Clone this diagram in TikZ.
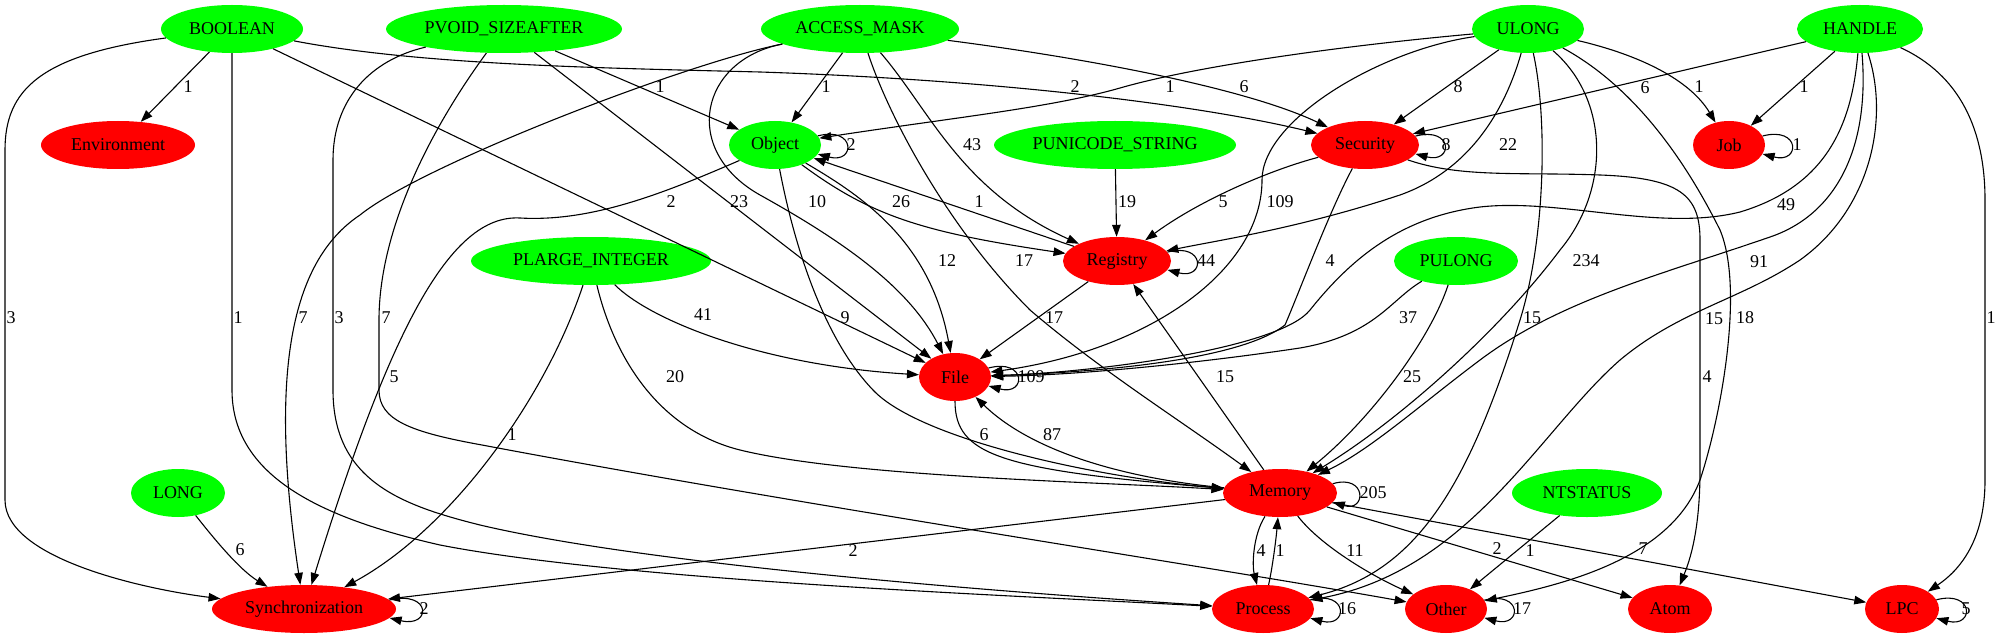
\documentclass[tikz,border=0pt]{standalone}
\usepackage{fontspec}
\setmainfont{Liberation Serif}
\usetikzlibrary{arrows.meta,shapes.geometric}
\definecolor{vgreen}{RGB}{0,255,0}
\definecolor{vred}{RGB}{255,0,0}
\tikzset{
  nbase/.style={ellipse, inner sep=0pt, minimum height=48pt, draw=none, font=\fontsize{18}{20}\selectfont},
  gnode/.style={nbase, fill=vgreen},
  rnode/.style={nbase, fill=vred},
  e/.style={draw=black, line width=1.1pt, -{Triangle[length=12pt,width=8.5pt]}},
  lbl/.style={font=\fontsize{18}{20}\selectfont, inner sep=0pt, text=black},
}
\begin{document}
\begin{tikzpicture}[x=1pt,y=-1pt]
\useasboundingbox (0,0) rectangle (2004,639);
% nodes
\node[gnode, minimum width=142pt] (BOOLEAN) at (232,29) {BOOLEAN};
\node[gnode, minimum width=236pt] (PVOID) at (504,29) {PVOID\_SIZEAFTER};
\node[gnode, minimum width=198pt] (ACCESS) at (860,29) {ACCESS\_MASK};
\node[gnode, minimum width=112pt] (ULONG) at (1528,29) {ULONG};
\node[gnode, minimum width=126pt] (HANDLE) at (1860,29) {HANDLE};
\node[rnode, minimum width=154pt] (Environment) at (118,145) {Environment};
\node[gnode, minimum width=92pt] (Object) at (775,145) {Object};
\node[gnode, minimum width=242pt] (PUNICODE) at (1115,145) {PUNICODE\_STRING};
\node[rnode, minimum width=108pt] (Security) at (1365,145) {Security};
\node[rnode, minimum width=72pt] (Job) at (1729,145) {Job};
\node[gnode, minimum width=240pt] (PLARGE) at (591,261) {PLARGE\_INTEGER};
\node[rnode, minimum width=108pt] (Registry) at (1117,261) {Registry};
\node[gnode, minimum width=124pt] (PULONG) at (1456,261) {PULONG};
\node[rnode, minimum width=72pt] (File) at (955,377) {File};
\node[gnode, minimum width=94pt] (LONG) at (178,493) {LONG};
\node[rnode, minimum width=114pt] (Memory) at (1280,493) {Memory};
\node[gnode, minimum width=150pt] (NTSTATUS) at (1587,493) {NTSTATUS};
\node[rnode, minimum width=184pt] (Sync) at (304,609) {Synchronization};
\node[rnode, minimum width=102pt] (Process) at (1263,609) {Process};
\node[rnode, minimum width=82pt] (Other) at (1446,609) {Other};
\node[rnode, minimum width=84pt] (Atom) at (1670,609) {Atom};
\node[rnode, minimum width=74pt] (LPC) at (1902,609) {LPC};
% edges from BOOLEAN
\draw[e] (BOOLEAN) -- (Environment) node[lbl] (l1) at (188,87) {1};
\draw[e] (BOOLEAN) .. controls (40,55) and (5,90) .. (5,150) -- (5,500) .. controls (5,560) and (150,590) .. (Sync) node[lbl] (l2) at (11,318) {3};
\draw[e] (BOOLEAN) -- (232,390) .. controls (232,480) and (330,520) .. (440,545) .. controls (620,580) and (1000,595) .. (Process) node[lbl] (l3) at (238,318) {1};
\draw[e] (BOOLEAN) .. controls (420,65) and (600,68) .. (760,72) .. controls (1000,80) and (1200,105) .. (Security) node[lbl] (l4) at (1075,87) {2};
\draw[e] (BOOLEAN) -- (File) node[lbl] (l5) at (671,202) {2};
% edges from PVOID_SIZEAFTER
\draw[e] (PVOID) -- (Object) node[lbl] (l6) at (660,87) {1};
\draw[e] (PVOID) .. controls (370,60) and (333,100) .. (333,160) -- (333,390) .. controls (333,480) and (400,505) .. (480,525) .. controls (650,565) and (1000,592) .. (Process) node[lbl] (l7) at (339,318) {3};
\draw[e] (PVOID) .. controls (430,130) and (379,230) .. (379,320) -- (379,390) .. controls (379,420) and (410,432) .. (482,445) .. controls (800,505) and (1200,565) .. (Other) node[lbl] (l8) at (386,318) {7};
\draw[e] (PVOID) -- (File) node[lbl] (l9) at (739,202) {23};
% edges from ACCESS_MASK
\draw[e] (ACCESS) -- (Object) node[lbl] (l10) at (826,87) {1};
\draw[e] (ACCESS) .. controls (1100,60) and (1250,90) .. (Security) node[lbl] (l11) at (1244,87) {6};
\draw[e] (ACCESS) .. controls (690,62) and (423,164) .. (360,215) .. controls (300,255) and (265,350) .. (Sync) node[lbl] (l12) at (303,318) {7};
\draw[e] (ACCESS) .. controls (700,60) and (680,150) .. (760,195) .. controls (850,245) and (910,290) .. (File) node[lbl] (l13) at (817,202) {10};
\draw[e] (ACCESS) .. controls (930,110) and (960,190) .. (Registry) node[lbl] (l14) at (972,145) {43};
\draw[e] (ACCESS) .. controls (890,120) and (950,230) .. (1030,310) .. controls (1100,370) and (1180,420) .. (Memory) node[lbl] (l15) at (1024,261) {17};
% edges from ULONG
\draw[e] (ULONG) .. controls (1350,45) and (1200,65) .. (1120,88) .. controls (1050,108) and (950,118) .. (Object) node[lbl] (l16) at (1170,87) {1};
\draw[e] (ULONG) -- (Security) node[lbl] (l17) at (1458,87) {8};
\draw[e] (ULONG) .. controls (1640,55) and (1690,80) .. (Job) node[lbl] (l18) at (1699,87) {1};
\draw[e] (ULONG) .. controls (1505,110) and (1470,170) .. (1400,195) .. controls (1300,228) and (1220,240) .. (Registry) node[lbl] (l19) at (1508,145) {22};
\draw[e] (ULONG) .. controls (1380,50) and (1262,120) .. (1262,180) .. controls (1262,270) and (1150,350) .. (File) node[lbl] (l20) at (1280,202) {109};
\draw[e] (ULONG) .. controls (1610,100) and (1610,190) .. (1560,250) .. controls (1500,330) and (1400,420) .. (Memory) node[lbl] (l21) at (1586,261) {234};
\draw[e] (ULONG) .. controls (1548,120) and (1545,240) .. (1520,320) .. controls (1470,480) and (1420,570) .. (Process) node[lbl] (l22) at (1532,318) {15};
\draw[e] (ULONG) .. controls (1640,90) and (1690,170) .. (1720,230) .. controls (1745,290) and (1720,420) .. (1700,480) .. controls (1670,560) and (1560,585) .. (Other) node[lbl] (l23) at (1745,318) {18};
% edges from HANDLE
\draw[e] (HANDLE) -- (Security) node[lbl] (l24) at (1645,88) {6};
\draw[e] (HANDLE) -- (Job) node[lbl] (l25) at (1804,87) {1};
\draw[e] (HANDLE) .. controls (1852,120) and (1830,185) .. (1740,212) .. controls (1660,232) and (1560,198) .. (1480,207) .. controls (1400,217) and (1350,260) .. (1310,310) .. controls (1280,348) and (1100,372) .. (File) node[lbl] (l26) at (1786,205) {49};
\draw[e] (HANDLE) .. controls (1870,150) and (1835,215) .. (1770,237) .. controls (1660,275) and (1560,300) .. (1480,360) .. controls (1420,405) and (1370,450) .. (Memory) node[lbl] (l27) at (1759,262) {91};
\draw[e] (HANDLE) .. controls (1890,120) and (1870,210) .. (1800,260) .. controls (1740,300) and (1680,310) .. (1620,360) .. controls (1540,430) and (1470,570) .. (Process) node[lbl] (l28) at (1714,319) {15};
\draw[e] (HANDLE) .. controls (1960,75) and (1985,130) .. (1985,200) -- (1985,480) .. controls (1985,540) and (1960,570) .. (LPC) node[lbl] (l29) at (1991,318) {1};
% Object
\draw[e] (Object.12) .. controls +(38,-10) and +(38,10) .. (Object.-12) node[lbl] (l30) at (851,145) {2};
\draw[e] (Object) .. controls (870,215) and (920,232) .. (Registry) node[lbl] (l31) at (901,202) {26};
\draw[e] (Registry) -- (Object) node[lbl] (l32) at (979,202) {1};
\draw[e] (Object) .. controls (860,195) and (930,240) .. (File) node[lbl] (l33) at (947,261) {12};
\draw[e] (Object) .. controls (795,250) and (825,340) .. (873,390) .. controls (920,440) and (1100,478) .. (Memory) node[lbl] (l34) at (845,318) {9};
\draw[e] (Object) .. controls (660,195) and (590,222) .. (520,218) .. controls (450,214) and (390,330) .. (Sync) node[lbl] (l35) at (394,377) {5};
% PUNICODE_STRING, Security, Job, Registry
\draw[e] (PUNICODE) -- (Registry) node[lbl] (l36) at (1127,202) {19};
\draw[e] (Security.10) .. controls +(38,-10) and +(38,10) .. (Security.-10) node[lbl] (l37) at (1446,145) {8};
\draw[e] (Security) .. controls (1270,170) and (1200,200) .. (Registry) node[lbl] (l38) at (1223,202) {5};
\draw[e] (Security) .. controls (1330,210) and (1300,290) .. (1285,325) .. controls (1240,360) and (1100,372) .. (File) node[lbl] (l39) at (1330,261) {4};
\draw[e] (Security) .. controls (1460,178) and (1520,172) .. (1600,175) .. controls (1680,178) and (1700,195) .. (1700,240) -- (1700,470) .. controls (1700,530) and (1690,560) .. (Atom) node[lbl] (l40) at (1707,377) {4};
\draw[e] (Job.15) .. controls +(38,-10) and +(38,10) .. (Job.-15) node[lbl] (l41) at (1797,145) {1};
\draw[e] (Registry.10) .. controls +(38,-10) and +(38,10) .. (Registry.-10) node[lbl] (l42) at (1206,261) {44};
\draw[e] (Registry) -- (File) node[lbl] (l43) at (1054,318) {17};
% PLARGE_INTEGER, PULONG
\draw[e] (PLARGE) .. controls (650,320) and (760,365) .. (File) node[lbl] (l44) at (703,315) {41};
\draw[e] (PLARGE) .. controls (615,360) and (660,430) .. (740,450) .. controls (850,477) and (1100,482) .. (Memory) node[lbl] (l45) at (675,377) {20};
\draw[e] (PLARGE) .. controls (545,400) and (450,530) .. (Sync) node[lbl] (l46) at (512,435) {1};
\draw[e] (PULONG) .. controls (1390,300) and (1375,335) .. (1300,348) .. controls (1200,363) and (1080,375) .. (File) node[lbl] (l47) at (1408,318) {37};
\draw[e] (PULONG) .. controls (1430,340) and (1370,420) .. (Memory) node[lbl] (l48) at (1412,377) {25};
% File, Memory
\draw[e] (File.15) .. controls +(38,-10) and +(38,10) .. (File.-15) node[lbl] (l49) at (1031,377) {109};
\draw[e] (File) .. controls (955,455) and (1000,470) .. (Memory) node[lbl] (l50) at (984,435) {6};
\draw[e] (Memory) .. controls (1120,478) and (1030,450) .. (File) node[lbl] (l51) at (1052,435) {87};
\draw[e] (Memory) -- (Registry) node[lbl] (l52) at (1225,377) {15};
\draw[e] (Memory.10) .. controls +(34,-10) and +(34,10) .. (Memory.-10) node[lbl] (l53) at (1373,493) {205};
\draw[e] (Memory) -- (Sync) node[lbl] (l54) at (853,551) {2};
\draw[e] (Memory) .. controls (1253,535) and (1252,565) .. (Process) node[lbl] (l55) at (1261,551) {4};
\draw[e] (Process) .. controls (1272,570) and (1276,540) .. (Memory) node[lbl] (l56) at (1280,551) {1};
\draw[e] (Memory) .. controls (1320,545) and (1370,575) .. (Other) node[lbl] (l57) at (1355,551) {11};
\draw[e] (Memory) -- (Atom) node[lbl] (l58) at (1497,549) {2};
\draw[e] (Memory) -- (LPC) node[lbl] (l59) at (1643,549) {7};
% LONG, NTSTATUS
\draw[e] (LONG) .. controls (215,540) and (240,570) .. (Sync) node[lbl] (l60) at (240,550) {6};
\draw[e] (NTSTATUS) -- (Other) node[lbl] (l61) at (1530,551) {1};
% bottom self loops
\draw[e] (Sync.6) .. controls +(42,-10) and +(42,10) .. (Sync.-6) node[lbl] (l62) at (424,609) {2};
\draw[e] (Process.11) .. controls +(38,-10) and +(38,10) .. (Process.-11) node[lbl] (l63) at (1347,609) {16};
\draw[e] (Other.13) .. controls +(38,-10) and +(38,10) .. (Other.-13) node[lbl] (l64) at (1522,609) {17};
\draw[e] (LPC.15) .. controls +(38,-10) and +(38,10) .. (LPC.-15) node[lbl] (l65) at (1966,609) {5};
\end{tikzpicture}
\end{document}
